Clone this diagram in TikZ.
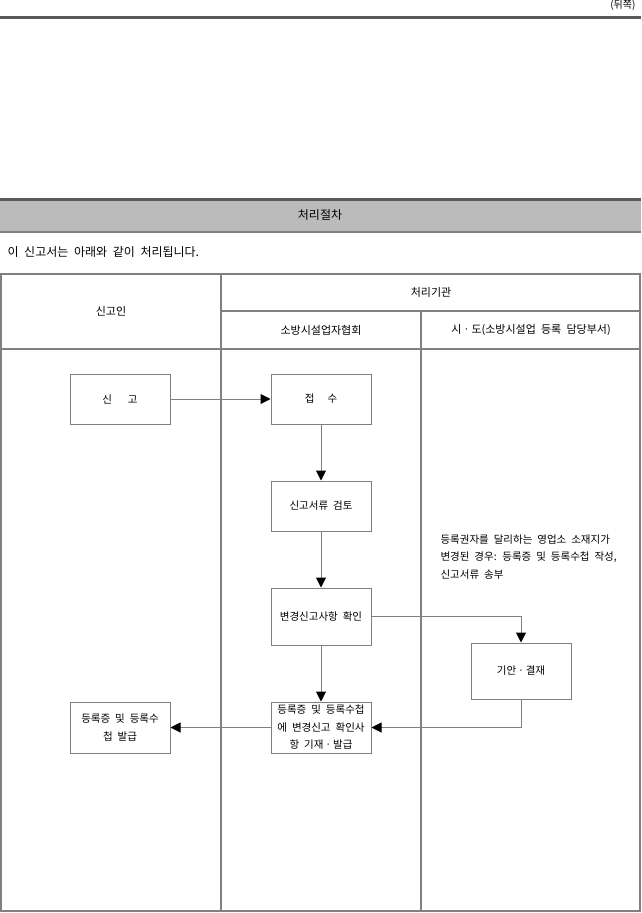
\documentclass[tikz,border=0pt]{standalone}
\usepackage{fontspec}
\setmainfont[WordSpace=2.1]{Noto Sans CJK KR}
\usetikzlibrary{
    positioning,
    arrows.meta,
    calc
}
\definecolor{lineGray}{RGB}{128, 128, 128}
\definecolor{barGray}{RGB}{90, 90, 90}
\definecolor{headGray}{RGB}{187, 187, 187}

\begin{document}
\begin{tikzpicture}[x=1pt, y=-1pt, >={Triangle[length=10pt, width=10pt, color=black]},
        font=\fontsize{10.5pt}{17.5pt}\selectfont,
        box/.style={draw=lineGray, line width=1pt, minimum width=100pt, minimum height=50pt, align=center, inner sep=2pt},
        flow/.style={->, draw=lineGray, line width=1pt},
        rule/.style={draw=lineGray, line width=1.2pt},
        head/.style={font=\fontsize{11pt}{14pt}\selectfont}]
            \useasboundingbox (0,0) rectangle (641,913);
            % page head
            \node[anchor=east, font=\fontsize{10pt}{12pt}\selectfont] (side) at (639,5) {(뒤쪽)};
            \draw[barGray, line width=3pt] (0,17) -- (641,17);
            \fill[headGray] (0,199) rectangle (641,232);
            \draw[barGray, line width=3pt] (0,199) -- (641,199);
            \draw[lineGray, line width=1.5pt] (0,232) -- (641,232);
            \node[font=\fontsize{12pt}{14pt}\selectfont] (title) at (320,215) {처리절차};
            \node[anchor=west, font=\fontsize{12pt}{14pt}\selectfont] (intro) at (4,252) {이 신고서는 아래와 같이 처리됩니다.};

            % table
            \draw[rule] (1,274) rectangle (640,911);
            \draw[rule] (221,274) -- (221,911);
            \draw[rule] (421,311) -- (421,911);
            \draw[rule] (221,311) -- (640,311);
            \draw[rule] (1,349) -- (640,349);
            \node[head] (applicant) at (111,311) {신고인};
            \node[head] (agency) at (431,292) {처리기관};
            \node[head] (assoc) at (321,330) {소방시설업자협회};
            \node[head] (city) at (531,330) {시ㆍ도(소방시설업 등록 담당부서)};

            % flow
            \node[box] (report) at (120,399) {신\hspace{16pt}고};
            \node[box] (receipt) at (321,399) {접\hspace{13pt}수};
            \node[box, below=56pt of receipt] (review) {신고서류 검토};
            \node[box, below=56pt of review, minimum height=57pt] (confirm) {변경신고사항 확인};
            \node[box, below=56pt of confirm, minimum height=51pt] (issue) {등록증 및 등록수첩\\에 변경신고 확인사\\항 기재ㆍ발급};
            \node[box, left=100pt of issue, minimum height=51pt] (handout) {등록증 및 등록수\\첩 발급};
            \node[box, minimum height=56pt] (approve) at (521,671) {기안ㆍ결재};
            \node[anchor=west, align=left] (note) at (437,557) {등록권자를 달리하는 영업소 소재지가\\변경된 경우: 등록증 및 등록수첩 작성,\\신고서류 송부};

            \draw[flow] (report) -- (receipt);
            \draw[flow] (receipt) -- (review);
            \draw[flow] (review) -- (confirm);
            \draw[flow] (confirm) -- (issue);
            \draw[flow] (confirm.east) -| (approve.north);
            \draw[flow] (approve.south) |- (issue.east);
            \draw[flow] (issue) -- (handout);
        \end{tikzpicture}
\end{document}
